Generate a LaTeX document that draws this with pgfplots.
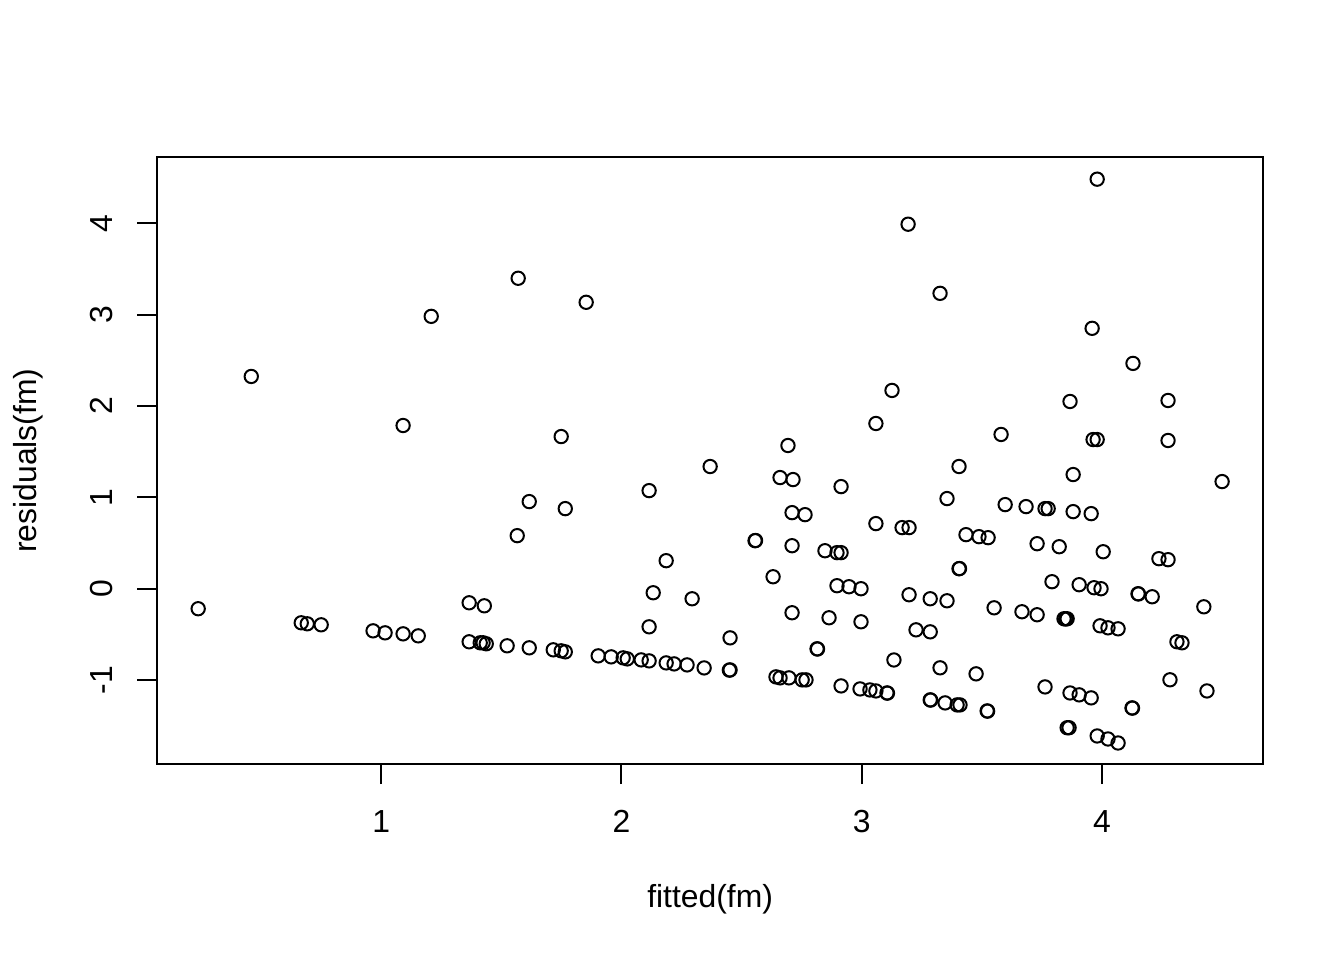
\documentclass[border=0pt]{standalone}
\usepackage{pgfplots}
\pgfplotsset{compat=1.18}
\usepackage{fontspec}
\setmainfont{Liberation Sans}
\begin{document}
\begin{tikzpicture}
\path[use as bounding box] (-59bp,-73.5bp) rectangle (445bp,286.5bp);
\begin{axis}[
  at={(0,0)}, anchor=south west,
  scale only axis, width=414.6bp, height=227.6bp,
  xmin=0.068, xmax=4.670, ymin=-1.921, ymax=4.724,
  axis line style={line width=0.75bp},
  every tick/.style={black, line width=0.75bp},
  tick align=outside, major tick length=7.5bp,
  xtick pos=bottom, ytick pos=left,
  xtick={1,2,3,4}, xticklabels={1,2,3,4},
  ytick={-1,0,1,2,3,4}, yticklabels={-1,0,1,2,3,4},
  xticklabel style={anchor=center, font=\fontsize{12}{14}\selectfont},
  yticklabel style={anchor=center, rotate=90, font=\fontsize{12}{14}\selectfont},
  xticklabel shift=0pt, yticklabel shift=0pt,
  x tick label style={yshift=-14bp},
  y tick label style={yshift=13.35bp},
  xlabel={fitted(fm)}, ylabel={residuals(fm)},
  label style={font=\fontsize{12}{14}\selectfont},
  xlabel style={at={(axis description cs:0.5,-0.2225)}, anchor=center},
  ylabel style={at={(axis description cs:-0.117,0.5)}, anchor=center, rotate=0},
  clip=false,
]
\addplot[only marks, mark=o, mark size=2.5bp, mark options={line width=0.75bp, black}] coordinates {
(0.238,-0.221) (0.459,2.322) (0.667,-0.375) (0.692,-0.386) (0.750,-0.397)
(0.966,-0.463) (1.016,-0.485) (1.091,-0.496) (1.154,-0.518) (1.091,1.785)
(1.208,2.980) (1.366,-0.156) (1.429,-0.189) (1.366,-0.583) (1.412,-0.594)
(1.424,-0.594) (1.437,-0.605) (1.524,-0.627) (1.616,-0.649) (1.716,-0.671)
(1.749,-0.682) (1.766,-0.693) (1.570,3.397) (1.566,0.579) (1.616,0.952)
(1.853,3.134) (1.749,1.664) (1.766,0.875) (1.903,-0.737) (1.957,-0.748)
(2.007,-0.759) (2.024,-0.770) (2.082,-0.781) (2.115,-0.792) (2.186,-0.814)
(2.219,-0.825) (2.273,-0.836) (2.344,-0.869) (2.452,-0.891) (2.449,-0.893)
(2.115,1.072) (2.132,-0.046) (2.186,0.305) (2.115,-0.419) (2.294,-0.112)
(2.369,1.336) (2.452,-0.540) (2.556,0.524) (2.558,0.526) (2.631,0.129)
(2.643,-0.967) (2.660,-0.978) (2.697,-0.978) (2.752,-1.000) (2.768,-1.000)
(2.660,1.215) (2.714,1.193) (2.693,1.566) (2.710,0.831) (2.764,0.809)
(2.710,0.469) (2.710,-0.265) (2.814,-0.660) (2.816,-0.662) (2.847,0.414)
(2.897,0.393) (2.914,0.393) (2.914,1.116) (2.897,0.031) (2.947,0.020)
(2.997,-0.002) (2.864,-0.320) (2.997,-0.364) (2.914,-1.066) (2.993,-1.099)
(3.034,-1.110) (3.059,-1.121) (3.105,-1.143) (3.107,-1.145) (3.059,1.807)
(3.059,0.711) (3.168,0.667) (3.197,0.667) (3.126,2.169) (3.193,3.989)
(3.326,3.232) (3.134,-0.782) (3.197,-0.068) (3.226,-0.452) (3.285,-0.112)
(3.285,-0.474) (3.355,-0.134) (3.326,-0.868) (3.285,-1.219) (3.287,-1.221)
(3.347,-1.252) (3.397,-1.274) (3.409,-1.274) (3.355,0.985) (3.405,1.336)
(3.434,0.590) (3.488,0.568) (3.526,0.557) (3.405,0.217) (3.407,0.219)
(3.476,-0.934) (3.522,-1.340) (3.524,-1.342) (3.551,-0.211) (3.580,1.687)
(3.597,0.919) (3.684,0.897) (3.667,-0.254) (3.730,-0.287) (3.730,0.491)
(3.763,0.875) (3.776,0.875) (3.763,-1.077) (3.792,0.075) (3.822,0.458)
(3.842,-0.331) (3.855,-0.331) (3.849,-0.333) (3.867,-1.143) (3.905,-1.164)
(3.955,-1.197) (3.855,-1.524) (3.863,-1.524) (3.880,1.248) (3.867,2.048)
(3.880,0.842) (3.905,0.042) (3.955,0.820) (3.959,2.849) (3.963,1.631)
(3.980,1.631) (3.980,4.482) (3.967,0.009) (3.996,-0.002) (3.992,-0.408)
(4.025,-0.430) (4.067,-0.441) (4.005,0.403) (3.980,-1.614) (4.025,-1.647)
(4.067,-1.691) (4.129,2.465) (4.125,-1.307) (4.127,-1.309) (4.150,-0.057)
(4.152,-0.059) (4.209,-0.090) (4.237,0.327) (4.275,0.316) (4.275,2.059)
(4.275,1.621) (4.283,-0.999) (4.312,-0.583) (4.333,-0.594) (4.424,-0.200)
(4.437,-1.121) (4.500,1.171)
};
\end{axis}
\end{tikzpicture}
\end{document}
